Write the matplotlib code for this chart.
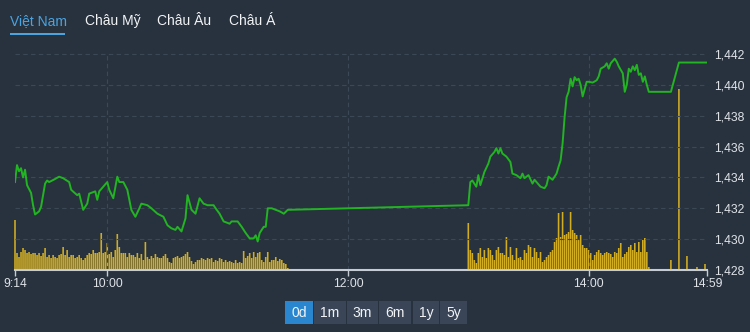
import matplotlib
matplotlib.use("Agg")
import matplotlib.pyplot as plt
from matplotlib.patches import Rectangle
from matplotlib.ticker import FuncFormatter

# === Data ===
# price: minutes after 9:14 -> index value
price_min = [0, 1, 2, 3, 4, 5, 6, 8, 9, 10, 12, 13, 15, 16, 17, 20, 22, 24, 27, 28,
             31, 32, 34, 36, 37, 40, 41, 42, 44, 46, 47, 49, 51, 52, 54, 56, 58, 60, 62, 63,
             66, 68, 71, 74, 76, 78, 80, 81, 83, 85, 86, 88, 90, 92, 94, 96, 99, 100, 102, 104,
             107, 108, 111, 113, 115, 117, 119, 120, 121, 122, 124, 125, 126, 128, 130, 132, 134, 136,
             226, 227, 228, 230, 231, 232, 234, 236, 237, 239, 240, 241, 242, 243, 245, 247, 248, 250,
             252, 253, 254, 256, 258, 259, 260, 262, 264, 265, 266, 268, 270, 271, 272, 273, 274, 275,
             276, 277, 278, 279, 280, 281, 282, 283, 285, 286, 288, 290, 291, 292, 294, 295, 296, 297,
             299, 300, 301, 303, 304, 305, 306, 307, 308, 309, 310, 311, 312, 313, 314, 315, 316,
             327, 331, 345]
price_val = [1433.7, 1434.8, 1434.4, 1434.6, 1434.0, 1434.5, 1433.5, 1433.0, 1432.2, 1431.6,
             1431.8, 1432.1, 1433.6, 1433.8, 1433.7, 1433.9, 1434.05, 1433.95, 1433.7, 1433.2,
             1432.85, 1432.95, 1431.9, 1432.3, 1432.95, 1433.1, 1432.55, 1433.1, 1433.4, 1433.7,
             1433.2, 1432.65, 1434.05, 1433.7, 1433.7, 1433.2, 1431.9, 1431.45, 1432.0, 1432.3,
             1432.2, 1432.0, 1431.65, 1431.45, 1430.9, 1430.7, 1430.6, 1430.8, 1430.5, 1431.35,
             1432.85, 1431.9, 1431.65, 1432.65, 1432.3, 1432.2, 1432.2, 1432.0, 1431.65, 1431.15,
             1431.0, 1431.15, 1431.15, 1430.8, 1430.4, 1430.05, 1430.05, 1430.25, 1429.85, 1430.4,
             1430.8, 1430.8, 1432.0, 1432.0, 1431.9, 1431.8, 1431.65, 1431.9,
             1432.2, 1433.7, 1433.8, 1433.4, 1434.15, 1433.5, 1434.35, 1434.9, 1435.35, 1435.65,
             1435.9, 1435.55, 1435.9, 1435.55, 1435.35, 1435.0, 1434.25, 1434.15, 1433.95, 1434.25,
             1433.95, 1434.15, 1433.6, 1433.85, 1433.7, 1433.4, 1433.3, 1433.5, 1434.05, 1433.85,
             1434.25, 1434.7, 1435.1, 1436.2, 1437.9, 1439.2, 1439.55, 1440.4, 1439.9, 1440.5,
             1440.3, 1440.4, 1440.0, 1439.25, 1440.2, 1440.2, 1440.15, 1440.3, 1440.55, 1441.05,
             1441.2, 1441.4, 1441.05, 1441.4, 1441.7, 1441.5, 1441.2, 1440.75, 1439.55, 1440.0,
             1441.05, 1440.85, 1441.2, 1440.95, 1441.3, 1440.65, 1440.75, 1440.2, 1440.55, 1440.0,
             1439.55, 1439.55, 1441.45, 1441.45]

# volume per minute, morning session starts 9:14, afternoon session starts 13:00
vol_morning = [50, 17, 13, 18, 22, 20, 17, 18, 16, 17,
               17, 15, 17, 14, 17, 22, 13, 15, 12, 15,
               13, 12, 15, 16, 23, 15, 20, 13, 15, 15,
               12, 13, 15, 12, 10, 12, 15, 17, 16, 20,
               17, 17, 18, 37, 17, 18, 27, 16, 18, 13,
               20, 36, 23, 17, 17, 17, 13, 17, 15, 15,
               13, 17, 12, 16, 10, 28, 13, 11, 14, 12,
               16, 13, 12, 12, 14, 16, 12, 8, 7, 12,
               13, 14, 12, 13, 14, 16, 18, 13, 9, 6,
               8, 10, 10, 12, 11, 10, 12, 11, 12, 8,
               10, 9, 12, 11, 8, 10, 8, 9, 8, 7,
               10, 7, 8, 7, 19, 12, 14, 17, 12, 18,
               13, 17, 18, 10, 8, 13, 18, 8, 10, 10,
               13, 9, 11, 10, 7, 6, 2]
vol_afternoon = [47, 20, 17, 10, 7, 17, 22, 13, 20, 12,
                 22, 20, 15, 10, 20, 23, 17, 17, 15, 33,
                 13, 23, 15, 10, 22, 12, 13, 10, 20, 17,
                 25, 23, 13, 22, 18, 12, 18, 8, 10, 13,
                 15, 18, 20, 28, 32, 57, 33, 58, 35, 36,
                 38, 58, 40, 37, 35, 30, 35, 25, 22, 22,
                 20, 17, 10, 15, 18, 20, 17, 15, 17, 18,
                 17, 16, 13, 18, 17, 22, 27, 13, 16, 18,
                 23, 25, 20, 27, 18, 28, 18, 30, 32, 18, 3]
# ATC and put-through prints (minutes after 9:14)
late_min = [327, 331, 335, 340, 344]
late_vol = [10, 181, 14, 3, 6]

tick_pos = ["9:14", "10:00", "12:00", "14:00", "14:59"]
tab_labels = ["Việt Nam", "Châu Mỹ", "Châu Âu", "Châu Á"]
range_labels = ["0d", "1m", "3m", "6m", "1y", "5y"]

START = 9 * 60 + 14
W, H = 750, 332
BG = "#28323e"
GREEN = "#22b422"
GOLD = "#d2ad22"
TXT = "#dfe3e8"
GRID = "#3d4856"

plt.rcParams["font.family"] = ["Liberation Sans", "DejaVu Sans"]


def hm(s):
    h, m = s.split(":")
    return int(h) * 60 + int(m)


fig = plt.figure(figsize=(W / 100, H / 100), dpi=100, facecolor=BG)

# === volume (behind) ===
axv = fig.add_axes([15 / W, 62 / H, 692 / W, 230 / H])
axv.set_facecolor(BG)
x_m = [START + i for i in range(len(vol_morning))]
x_a = [hm("13:00") + i for i in range(len(vol_afternoon))]
x_l = [START + m for m in late_min]
for xs, vs in [(x_m, vol_morning), (x_a, vol_afternoon), (x_l, late_vol)]:
    bars = axv.bar(xs, vs, width=0.8, color=GOLD, edgecolor="none", linewidth=0)
    for b in bars:
        b.set_snap(False)
        b.set_clip_on(False)
axv.set_ylim(0, 230)
axv.set_xlim(hm("9:14"), hm("14:59"))
axv.set_yticks([])
axv.tick_params(axis="x", length=0, labelbottom=False)
for sp in axv.spines.values():
    sp.set_visible(False)

# === price (front) ===
ax = fig.add_axes(axv.get_position())
ax.patch.set_visible(False)
ax.plot([START + m for m in price_min], price_val, color=GREEN, lw=1.4, zorder=3)
ax.set_xlim(hm("9:14"), hm("14:59"))
ax.set_ylim(1428, 1442.91)
ax.set_yticks(range(1428, 1443, 2))
ax.yaxis.tick_right()
ax.yaxis.set_major_formatter(FuncFormatter(lambda v, p: f"{int(v):,}"))
ax.tick_params(axis="y", length=0, pad=5, labelsize=8.7, labelcolor=TXT)
ax.grid(axis="y", color=GRID, linestyle=(0, (4, 3)), linewidth=0.8, zorder=0)
ax.vlines([hm(t) for t in tick_pos[1:4]], 1428, 1442, color=GRID,
          linestyle=(0, (4, 3)), linewidth=0.8, zorder=0)

ax.set_xticks([hm(t) for t in tick_pos])
ax.set_xticklabels(tick_pos)
ax.tick_params(axis="x", length=4, width=1, color="#c5ccd3", pad=2, labelsize=8.7, labelcolor=TXT)
for name, sp in ax.spines.items():
    sp.set_visible(name == "bottom")
ax.spines["bottom"].set_color("#c5ccd3")
ax.spines["bottom"].set_linewidth(1.5)

# === tabs on top ===
tab_x = [10, 85, 157, 229]
for i, (lab, tx) in enumerate(zip(tab_labels, tab_x)):
    col = "#4ba3e0" if i == 0 else "#f2f4f6"
    fig.text(tx / W, 1 - 21 / H, lab, color=col, fontsize=10, ha="left", va="center")
fig.add_artist(Rectangle((10 / W, 1 - 35 / H), 55 / W, 2.5 / H, transform=fig.transFigure,
                         color="#4ba3e0", lw=0))

# === range buttons ===
btn_x = [285, 314, 347, 379, 413, 440]
btn_w = [28, 32, 31, 32, 26, 27]
for i, (lab, bx, bw) in enumerate(zip(range_labels, btn_x, btn_w)):
    col = "#2a86cf" if i == 0 else "#3a4657"
    fig.add_artist(Rectangle((bx / W, 1 - 324 / H), bw / W, 23 / H, transform=fig.transFigure,
                             color=col, lw=0))
    fig.text((bx + bw / 2) / W, 1 - 313 / H, lab, color="#f2f4f6", fontsize=10,
             ha="center", va="center")

fig.savefig("out.png", dpi=100, facecolor=BG)
